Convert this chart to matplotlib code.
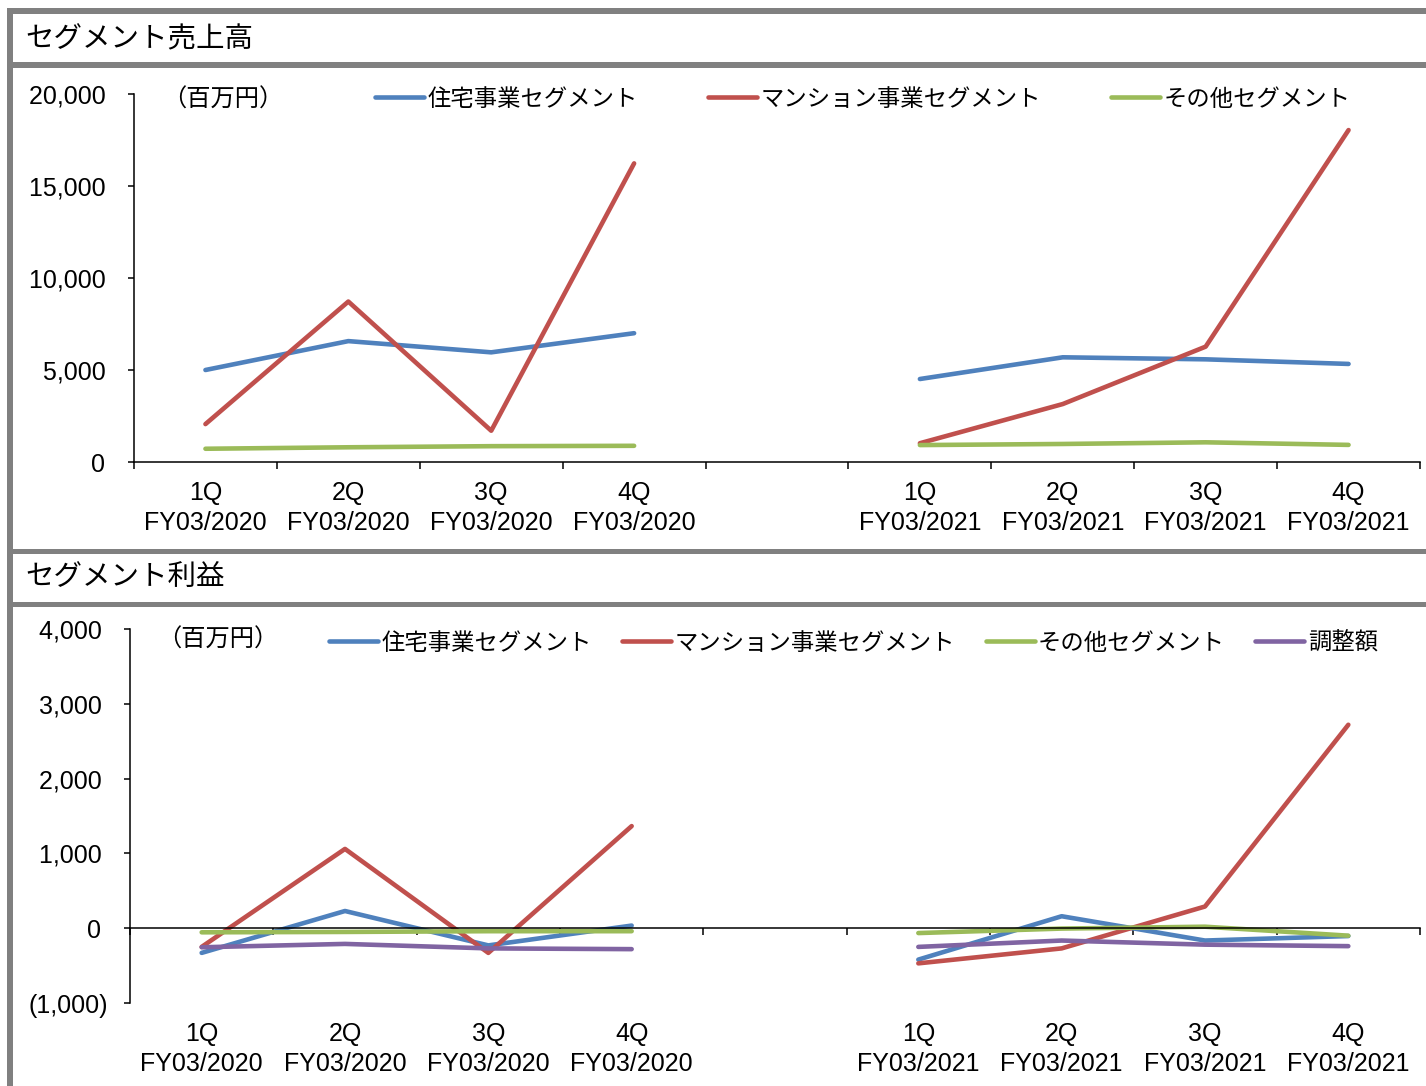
import numpy as np
import matplotlib
matplotlib.use('Agg')
import matplotlib.pyplot as plt
from matplotlib.patches import Rectangle
from matplotlib.ticker import FuncFormatter

plt.rcParams['font.family'] = ['Liberation Sans', 'Noto Sans CJK JP']
JP = ['Noto Sans CJK JP', 'DejaVu Sans']

# categories (5th slot is an empty gap between fiscal years)
quarters = ['1Q', '2Q', '3Q', '4Q', '', '1Q', '2Q', '3Q', '4Q']
years = ['FY03/2020'] * 4 + [''] + ['FY03/2021'] * 4
nan = np.nan

# segment sales (million yen)
sales_house = [5000, 6570, 5960, 7000, nan, 4510, 5690, 5580, 5330]
sales_mansion = [2060, 8720, 1700, 16230, nan, 1020, 3150, 6270, 18040]
sales_other = [720, 800, 860, 880, nan, 920, 980, 1070, 930]

# segment profit (million yen)
profit_house = [-330, 230, -230, 35, nan, -420, 160, -165, -105]
profit_mansion = [-250, 1060, -330, 1365, nan, -470, -270, 290, 2720]
profit_other = [-55, -50, -40, -40, nan, -65, -5, 20, -100]
profit_adjust = [-255, -210, -270, -280, nan, -250, -165, -220, -240]

names = ['住宅事業セグメント', 'マンション事業セグメント', 'その他セグメント', '調整額']
colors = ['#4F81BD', '#C0504D', '#9BBB59', '#8064A2']

W, H = 1426, 1086
fig = plt.figure(figsize=(W / 100, H / 100), dpi=100)
fig.patch.set_facecolor('white')

# grey frame bars
gray = '#808080'
fig.add_artist(Rectangle((7 / W, 0), 6 / W, 1 - 8 / H, transform=fig.transFigure,
                         facecolor=gray, edgecolor='none'))
for y0, y1 in [(8, 14), (62, 68), (549, 554), (602, 607)]:
    fig.add_artist(Rectangle((7 / W, 1 - y1 / H), 1 - 7 / W, (y1 - y0) / H,
                             transform=fig.transFigure, facecolor=gray, edgecolor='none'))

fig.text(25 / W, 1 - 39 / H, 'セグメント売上高', ha='left', va='center', fontsize=20.5, family=JP)
fig.text(25 / W, 1 - 578 / H, 'セグメント利益', ha='left', va='center', fontsize=20.5, family=JP)


def fmt(v, pos):
    if v < 0:
        return '({:,.0f})'.format(-v)
    return '{:,.0f} '.format(v)


def setup(ax, ylim, yticks):
    x = np.arange(len(quarters))
    ax.set_xlim(-0.5, len(quarters) - 0.5)
    ax.set_ylim(*ylim)
    ax.set_yticks(yticks)
    ax.yaxis.set_major_formatter(FuncFormatter(fmt))
    ax.spines['top'].set_visible(False)
    ax.spines['right'].set_visible(False)
    ax.spines['left'].set_linewidth(1.1)
    ax.spines['bottom'].set_linewidth(1.1)
    ax.spines['bottom'].set_position(('data', 0))
    ax.set_xticks(np.arange(len(quarters) + 1) - 0.5)
    ax.tick_params(axis='x', labelbottom=False, direction='out', length=5, width=1.1)
    ax.tick_params(axis='y', direction='out', length=4.5, width=1.1, labelsize=18, pad=11)
    sec = ax.secondary_xaxis('bottom')
    sec.set_xticks(x, labels=[q + '\n' + y if q else '' for q, y in zip(quarters, years)])
    sec.spines['bottom'].set_visible(False)
    sec.tick_params(length=0, pad=14, labelsize=18)
    for t in sec.get_xticklabels():
        t.set_linespacing(1.3)
    return x


# ---- sales chart
ax1 = fig.add_axes([134 / W, 1 - 462 / H, (1420 - 134) / W, (462 - 94) / H])
x = setup(ax1, (0, 20000), [0, 5000, 10000, 15000, 20000])
for vals, name, c in zip([sales_house, sales_mansion, sales_other], names, colors):
    ax1.plot(x, vals, color=c, lw=3.3, label=name, solid_capstyle='round', solid_joinstyle='round')
fig.text(223 / W, 1 - 100 / H, '（百万円）', ha='center', va='center', fontsize=17.5, family=JP)
ax1.legend(loc='center left', bbox_to_anchor=(375 / W, 1 - 99 / H), bbox_transform=fig.transFigure,
           ncol=3, frameon=False, borderpad=0, borderaxespad=0, handlelength=2.1,
           handletextpad=0.15, columnspacing=3.0, prop={'family': JP, 'size': 16.8})

# ---- profit chart
ax2 = fig.add_axes([130 / W, 1 - 1003 / H, (1420 - 130) / W, (1003 - 629) / H])
x = setup(ax2, (-1000, 4000), [-1000, 0, 1000, 2000, 3000, 4000])
for vals, name, c in zip([profit_house, profit_mansion, profit_other, profit_adjust], names, colors):
    ax2.plot(x, vals, color=c, lw=3.3, label=name, solid_capstyle='round', solid_joinstyle='round')
fig.text(218 / W, 1 - 640 / H, '（百万円）', ha='center', va='center', fontsize=17.5, family=JP)
ax2.legend(loc='center left', bbox_to_anchor=(329 / W, 1 - 643 / H), bbox_transform=fig.transFigure,
           ncol=4, frameon=False, borderpad=0, borderaxespad=0, handlelength=2.1,
           handletextpad=0.15, columnspacing=1.3, prop={'family': JP, 'size': 16.8})

fig.savefig('out.png', dpi=100)
